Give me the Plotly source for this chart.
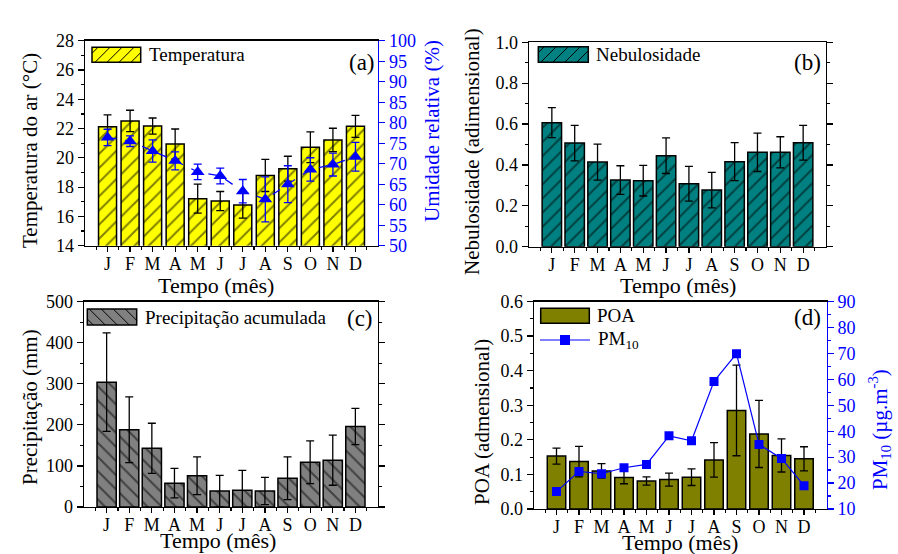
import plotly.graph_objects as go

# ---------------- data ----------------
months = ["J", "F", "M", "A", "M", "J", "J", "A", "S", "O", "N", "D"]
month_pos = list(range(1, 13))

temperatura = [22.13, 22.52, 22.17, 20.94, 17.21, 17.05, 16.78, 18.80, 19.26, 20.72, 21.22, 22.15]
temperatura_err = [0.80, 0.73, 0.55, 1.03, 0.99, 0.65, 0.90, 1.10, 0.85, 1.05, 0.80, 0.75]
umidade = [76.4, 75.5, 73.1, 70.7, 68.0, 67.0, 63.3, 61.3, 65.0, 68.6, 69.8, 71.7]
umidade_err = [2.0, 1.3, 2.7, 2.2, 1.9, 1.9, 2.85, 5.5, 4.5, 2.85, 2.8, 3.5]

nebulosidade = [0.607, 0.507, 0.414, 0.326, 0.323, 0.445, 0.308, 0.277, 0.416, 0.462, 0.462, 0.509]
nebulosidade_err = [0.073, 0.087, 0.088, 0.070, 0.075, 0.087, 0.085, 0.087, 0.093, 0.094, 0.076, 0.085]

precipitacao = [304, 188, 143, 58, 76, 39, 41, 39, 70, 109, 114, 196]
precipitacao_err = [120, 80, 61, 36, 46, 38, 48, 33, 52, 52, 61, 44]

poa = [0.153, 0.137, 0.110, 0.091, 0.081, 0.085, 0.092, 0.142, 0.285, 0.217, 0.155, 0.145]
poa_err = [0.023, 0.044, 0.021, 0.018, 0.012, 0.019, 0.024, 0.050, 0.131, 0.097, 0.048, 0.035]
pm10 = [16.7, 24.5, 23.6, 25.9, 27.2, 38.2, 36.3, 59.2, 69.9, 34.9, 29.5, 19.0]

# ---------------- helpers ----------------
W, H = 898, 554
FONT = "Liberation Serif, DejaVu Serif, serif"
BLUE = "#0000FF"


def px(x):
    return x / W


def py(y):
    return 1 - y / H


panels = {
    "a": (85, 378, 40.7, 245.7),
    "b": (529, 826, 42.3, 246.7),
    "c": (84, 378, 301.7, 507),
    "d": (534, 826.5, 301.5, 509),
}

fig = go.Figure()

bar_line = dict(color="black", width=1.5)
err_style = dict(type="data", color="black", thickness=1.3, width=4)
hatch_sol = 0.2

# (a) temperature bars + humidity line
fig.add_trace(go.Bar(
    x=month_pos, y=temperatura, width=0.8, xaxis="x", yaxis="y",
    marker=dict(color="#FFFF00", line=bar_line,
                pattern=dict(shape="/", fgcolor="black", bgcolor="#FFFF00", size=10, solidity=hatch_sol)),
    error_y=dict(array=temperatura_err, **err_style), showlegend=False))
fig.add_trace(go.Scatter(
    x=month_pos, y=umidade, xaxis="x", yaxis="y2", mode="lines+markers",
    line=dict(color=BLUE, width=1.3, dash="dash"),
    marker=dict(symbol="triangle-up", size=12, color=BLUE),
    error_y=dict(type="data", array=umidade_err, color=BLUE, thickness=1.3, width=4),
    showlegend=False))

# (b) nebulosidade
fig.add_trace(go.Bar(
    x=month_pos, y=nebulosidade, width=0.85, xaxis="x2", yaxis="y3",
    marker=dict(color="#008080", line=bar_line,
                pattern=dict(shape="/", fgcolor="black", bgcolor="#008080", size=10, solidity=hatch_sol)),
    error_y=dict(array=nebulosidade_err, **err_style), showlegend=False))

# (c) precipitacao
fig.add_trace(go.Bar(
    x=month_pos, y=precipitacao, width=0.85, xaxis="x3", yaxis="y4",
    marker=dict(color="#808080", line=bar_line,
                pattern=dict(shape="\\", fgcolor="black", bgcolor="#808080", size=10, solidity=hatch_sol)),
    error_y=dict(array=precipitacao_err, **err_style), showlegend=False))

# (d) POA + PM10
fig.add_trace(go.Bar(
    x=month_pos, y=poa, width=0.82, xaxis="x4", yaxis="y5",
    marker=dict(color="#808000", line=bar_line),
    error_y=dict(array=poa_err, **err_style), showlegend=False))
fig.add_trace(go.Scatter(
    x=month_pos, y=pm10, xaxis="x4", yaxis="y6", mode="lines+markers",
    line=dict(color=BLUE, width=1.2),
    marker=dict(symbol="square", size=9, color=BLUE),
    showlegend=False))

tickfont = dict(family=FONT, size=18, color="black")
bluefont = dict(family=FONT, size=18, color=BLUE)


def xax(p, anchor):
    x0, x1, y0, y1 = panels[p]
    return dict(domain=[px(x0), px(x1)], anchor=anchor, range=[0, 13], automargin=False,
                tickmode="array", tickvals=month_pos, ticktext=months,
                ticks="outside", ticklen=5, tickwidth=1.2, tickcolor="black",
                ticklabelstandoff=-4,
                minor=dict(tickvals=[i + 0.5 for i in range(0, 13)], ticks="outside",
                           ticklen=3, tickwidth=1.2, tickcolor="black"),
                showline=True, linecolor="black", linewidth=1.3, mirror=True,
                showgrid=False, zeroline=False, tickfont=tickfont, fixedrange=True)


def yax(p, anchor, rng, dtick, minor_dtick, fmt, mirror):
    x0, x1, y0, y1 = panels[p]
    return dict(domain=[py(y1), py(y0)], anchor=anchor, range=rng, dtick=dtick, tick0=rng[0],
                automargin=False,
                ticks="outside", ticklen=6, tickwidth=1.2, tickcolor="black",
                minor=dict(dtick=minor_dtick, ticks="outside", ticklen=3, tickwidth=1.2,
                           tickcolor="black"),
                showline=True, linecolor="black", linewidth=1.3, mirror=mirror,
                showgrid=False, zeroline=False, tickformat=fmt, tickfont=tickfont,
                fixedrange=True)


def yax_right(overlay, anchor, rng, dtick, minor_dtick):
    d = dict(overlaying=overlay, anchor=anchor, side="right", range=rng, dtick=dtick,
             tick0=rng[0], automargin=False,
             ticks="outside", ticklen=6, tickwidth=1.2, tickcolor=BLUE,
             showline=True, linecolor=BLUE, linewidth=1.3, showgrid=False,
             zeroline=False, tickfont=bluefont, fixedrange=True)
    if minor_dtick:
        d["minor"] = dict(dtick=minor_dtick, ticks="outside", ticklen=3, tickwidth=1.2,
                          tickcolor=BLUE)
    return d


fig.update_layout(
    xaxis=xax("a", "y"),
    yaxis=yax("a", "x", [14, 28], 2, 1, "d", False),
    yaxis2=yax_right("y", "x", [50, 100], 5, None),
    xaxis2=xax("b", "y3"),
    yaxis3=yax("b", "x2", [0, 1.0], 0.2, 0.1, ".1f", "ticks"),
    xaxis3=xax("c", "y4"),
    yaxis4=yax("c", "x3", [0, 500], 100, 50, "d", "ticks"),
    xaxis4=xax("d", "y5"),
    yaxis5=yax("d", "x4", [0, 0.6], 0.1, 0.05, ".1f", False),
    yaxis6=yax_right("y5", "x4", [10, 90], 10, 5),
)

# ---------------- text (titles, labels, legends) ----------------
ann = []


def text(x, y, t, size=22, color="black", angle=0, xanchor="center"):
    ann.append(dict(x=px(x), y=py(y), xref="paper", yref="paper", text=t, showarrow=False,
                    textangle=angle, xanchor=xanchor, yanchor="middle",
                    font=dict(family=FONT, size=size, color=color)))


VT = 21   # vertical axis titles
HT = 22   # horizontal axis titles
# axis titles
text(30, 151, "Temperatura do ar (°C)", size=VT, angle=-90)
text(432, 131, "Umidade relativa (%)", size=VT, color=BLUE, angle=-90)
text(216, 285, "Tempo (mês)", size=HT)
text(472, 152, "Nebulosidade (adimensional)", size=VT, angle=-90)
text(678, 285, "Tempo (mês)", size=HT)
text(30, 407, "Precipitação (mm)", size=VT, angle=-90)
text(218, 540, "Tempo (mês)", size=HT)
text(482, 422, "POA (admensional)", size=VT, angle=-90)
text(879, 430, "PM<sub>10</sub> (µg.m<sup>-3</sup>)", size=VT, color=BLUE, angle=-90)
text(680, 542, "Tempo (mês)", size=HT)

# panel labels
text(362, 62, "(a)", size=23)
text(807, 62, "(b)", size=23)
text(360, 318, "(c)", size=23)
text(807, 317, "(d)", size=23)

shapes = []


def hatch(x0, y0, x1, y1, step, kind):
    segs = []
    if kind == "/":
        c = x0 + y0 + step / 2
        while c < x1 + y1:
            xa, xb = max(x0, c - y1), min(x1, c - y0)
            if xb > xa:
                segs.append((xa, c - xa, xb, c - xb))
            c += step
    else:
        c = x0 - y1 + step / 2
        while c < x1 - y0:
            xa, xb = max(x0, c + y0), min(x1, c + y1)
            if xb > xa:
                segs.append((xa, xa - c, xb, xb - c))
            c += step
    for (a, b, cc, d) in segs:
        shapes.append(dict(type="line", xref="paper", yref="paper",
                           x0=px(a), y0=py(b), x1=px(cc), y1=py(d),
                           line=dict(color="black", width=1)))


def legend_patch(x0, y0, x1, y1, color, kind, label):
    shapes.append(dict(type="rect", xref="paper", yref="paper", x0=px(x0), y0=py(y0),
                       x1=px(x1), y1=py(y1), fillcolor=color,
                       line=dict(color="black", width=1.5)))
    if kind:
        hatch(x0, y0, x1, y1, 12, kind)
    text(x1 + 6, (y0 + y1) / 2, label, size=19, xanchor="left")


legend_patch(92, 47.3, 140.7, 62.3, "#FFFF00", "/", "Temperatura")
legend_patch(538.3, 46.7, 588.3, 62.3, "#008080", "/", "Nebulosidade")
legend_patch(87.3, 309, 136.7, 325, "#808080", "\\", "Precipitação acumulada")
legend_patch(540.7, 308.3, 589.3, 323.3, "#808000", None, "POA")
# PM10 legend entry
shapes.append(dict(type="line", xref="paper", yref="paper", x0=px(540), y0=py(340),
                   x1=px(590), y1=py(340), line=dict(color=BLUE, width=1.2)))
shapes.append(dict(type="rect", xref="paper", yref="paper", x0=px(560), y0=py(335),
                   x1=px(570), y1=py(345), fillcolor=BLUE, line=dict(color=BLUE, width=0)))
text(596, 340, "PM<sub>10</sub>", size=19, xanchor="left")

fig.update_layout(
    width=W, height=H, margin=dict(l=0, r=0, t=0, b=0, autoexpand=False),
    paper_bgcolor="white", plot_bgcolor="white",
    annotations=ann, shapes=shapes, bargap=0, showlegend=False,
    font=dict(family=FONT, size=18, color="black"),
)

fig.write_html("out.html", config={"displayModeBar": False, "staticPlot": True},
               post_script="document.body.style.margin='0px';document.body.style.padding='0px';")
